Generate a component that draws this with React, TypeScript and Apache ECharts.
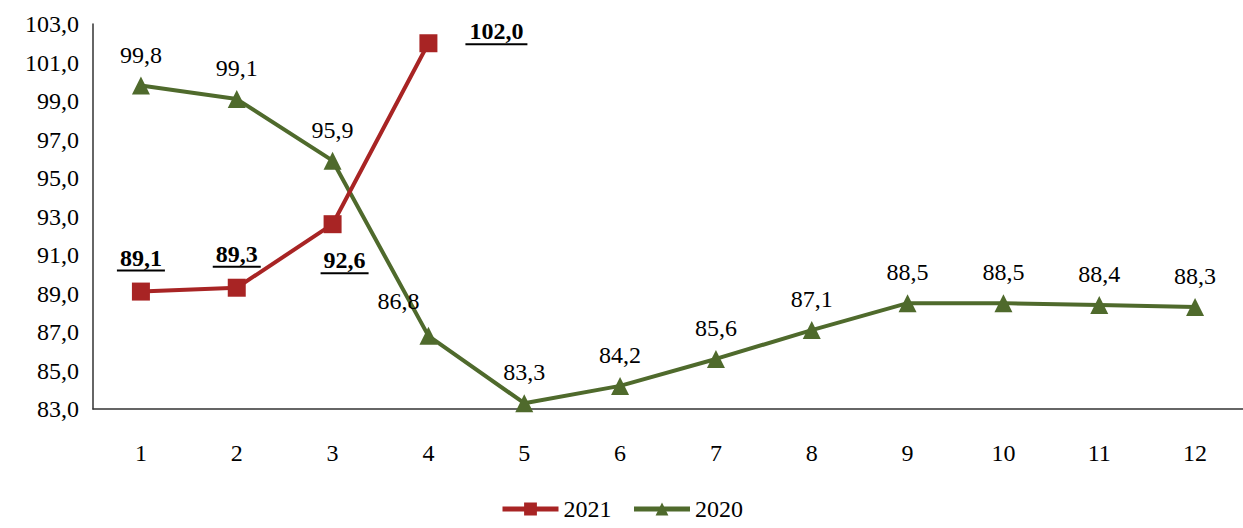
import React, { useEffect, useRef } from "react";
import * as echarts from "echarts";

const categories = ["1", "2", "3", "4", "5", "6", "7", "8", "9", "10", "11", "12"];
const values2021 = [89.1, 89.3, 92.6, 102.0];
const values2020 = [99.8, 99.1, 95.9, 86.8, 83.3, 84.2, 85.6, 87.1, 88.5, 88.5, 88.4, 88.3];
const yTicks = { min: 83, max: 103, interval: 2 };

const RED = "#a82424";
const GREEN = "#4f6a2c";
const FONT = "Liberation Serif";
const FS = 24;

const fmt = (v: number) => v.toFixed(1).replace(".", ",");

export default function App() {
  const ref = useRef<HTMLDivElement>(null);
  useEffect(() => {
    if (!ref.current) return;
    const chart = echarts.init(ref.current, null, { renderer: "svg" });

    const redLabelPos: any[] = [
      { position: "top", distance: 10, offset: [0, 0] },
      { position: "top", distance: 10, offset: [0, 0] },
      { position: "bottom", distance: 16, offset: [12, 0] },
      { position: "right", distance: 28, offset: [0, -10] },
    ];
    const underlineLabel = (v: number) => {
      const s = fmt(v);
      const w = s.length > 4 ? 62 : 48;
      return { text: `{a|${s}}\n{u|}`, w };
    };

    const data2021 = values2021.map((v, i) => {
      const u = underlineLabel(v);
      return {
        value: v,
        label: {
          show: true,
          ...redLabelPos[i],
          formatter: u.text,
          rich: {
            a: { fontFamily: FONT, fontSize: FS, fontWeight: "bold", color: "#000", lineHeight: 22, align: "center" },
            u: { width: u.w, height: 2, backgroundColor: "#000", lineHeight: 4, align: "center" },
          },
        },
      };
    });

    const data2020 = values2020.map((v, i) => ({
      value: v,
      label: i === 3 ? { offset: [-30, -4] } : undefined,
    }));

    chart.setOption({
      animation: false,
      grid: { left: 93, right: 0, top: 24, bottom: 119, containLabel: false },
      legend: {
        bottom: 2,
        left: "center",
        itemWidth: 56,
        itemHeight: 16,
        itemGap: 20,
        lineStyle: { width: 5 },
        textStyle: { fontFamily: FONT, fontSize: FS, color: "#000" },
        data: ["2021", "2020"],
      },
      xAxis: {
        type: "category",
        data: categories,
        boundaryGap: true,
        axisTick: { show: false },
        axisLine: { lineStyle: { color: "#333", width: 1.5 } },
        axisLabel: { fontFamily: FONT, fontSize: FS, color: "#000", margin: 32 },
      },
      yAxis: {
        type: "value",
        min: yTicks.min,
        max: yTicks.max,
        interval: yTicks.interval,
        splitLine: { show: false },
        axisTick: { show: false },
        axisLine: { show: true, lineStyle: { color: "#333", width: 1.5 } },
        axisLabel: {
          fontFamily: FONT,
          fontSize: FS,
          color: "#000",
          margin: 14,
          formatter: (v: number) => fmt(v),
        },
      },
      series: [
        {
          name: "2021",
          type: "line",
          data: data2021,
          symbol: "rect",
          symbolSize: 18,
          itemStyle: { color: RED },
          lineStyle: { color: RED, width: 4 },
          z: 3,
        },
        {
          name: "2020",
          type: "line",
          data: data2020,
          symbol: "triangle",
          symbolSize: 18,
          itemStyle: { color: GREEN },
          lineStyle: { color: GREEN, width: 4 },
          label: {
            show: true,
            position: "top",
            distance: 10,
            fontFamily: FONT,
            fontSize: FS,
            color: "#000",
            formatter: (p: any) => fmt(p.value),
          },
          z: 2,
        },
      ],
    });
    return () => chart.dispose();
  }, []);
  return (
    <div
      ref={ref}
      style={{ position: "fixed", left: 0, top: 0, width: 1243, height: 528, background: "#fff" }}
    />
  );
}
